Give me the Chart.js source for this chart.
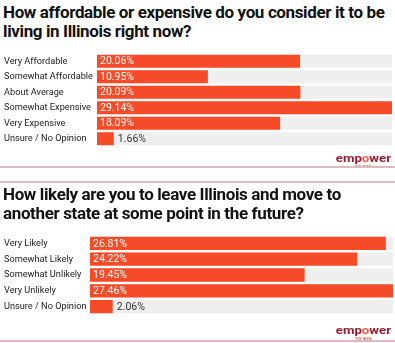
<!DOCTYPE html>
<html lang="en">
<head>
<meta charset="UTF-8">
<title>Illinois survey</title>
<script src="https://cdn.jsdelivr.net/npm/chart.js@4.4.1/dist/chart.umd.min.js"></script>
<style>
  body { margin:0; width:395px; height:343px; background:#fff; position:relative; overflow:hidden; font-family:Roboto, sans-serif; }
  .title { position:absolute; left:3px; font-weight:700; font-size:17px; line-height:19px; color:#111; white-space:nowrap; letter-spacing:-0.37px; }
  .box { position:absolute; left:0; }
  .rule { position:absolute; left:0; width:395px; height:2px; background:#d9bcc0; }
  .logo { position:absolute; right:4px; font-weight:700; font-size:11.5px; line-height:12px; color:#9a1a2d; transform:scaleX(1.15); transform-origin:right top; white-space:nowrap; }
  .logo span { color:#ef5a3c; }
  .logo small { position:absolute; left:17px; top:9px; font-size:3.5px; color:#ef5a3c; letter-spacing:0.4px; }
</style>
</head>
<body>

<div class="title" style="top:3px">How affordable or expensive do you consider it to be<br>living in Illinois right now?</div>
<div class="box" style="top:48px"><canvas id="chart1" width="395" height="104"></canvas></div>
<div class="logo" style="top:152px">emp<span>o</span>wer<small>TO WIN</small></div>
<div class="rule" style="top:166px"></div>
<div class="rule" style="top:181px"></div>

<div class="title" style="top:185px">How likely are you to leave Illinois and move to<br>another state at some point in the future?</div>
<div class="box" style="top:230px"><canvas id="chart2" width="395" height="90"></canvas></div>
<div class="logo" style="top:324px">emp<span>o</span>wer<small>TO WIN</small></div>
<div class="rule" style="top:340px"></div>

<script>
// question 1
const costLabels = ['Very Affordable', 'Somewhat Affordable', 'About Average', 'Somewhat Expensive', 'Very Expensive', 'Unsure / No Opinion'];
const costValues = [20.06, 10.95, 20.09, 29.14, 18.09, 1.66];

// question 2
const leaveLabels = ['Very Likely', 'Somewhat Likely', 'Somewhat Unlikely', 'Very Unlikely', 'Unsure / No Opinion'];
const leaveValues = [26.81, 24.22, 19.45, 27.46, 2.06];

const barColor = '#f64b28';
const trackColor = '#efefef';

// percent text inside the bar, or just after it when the bar is too short
const valueLabels = {
    id: 'valueLabels',
    afterDatasetsDraw(chart) {
        const ctx = chart.ctx;
        const meta = chart.getDatasetMeta(1);
        ctx.save();
        ctx.font = '10.5px Roboto';
        ctx.textBaseline = 'middle';
        meta.data.forEach((bar, i) => {
            const txt = chart.data.datasets[1].data[i].toFixed(2) + '%';
            const w = ctx.measureText(txt).width;
            if (bar.x - bar.base > w + 8) {
                ctx.fillStyle = '#fff';
                ctx.fillText(txt, bar.base + 3, bar.y + 0.5);
            } else {
                ctx.fillStyle = '#333';
                ctx.fillText(txt, bar.x + 4, bar.y + 0.5);
            }
        });
        ctx.restore();
    }
};

function makeChart(id, labels, values, axisWidth, padRight) {
    const max = Math.max(...values);
    new Chart(document.getElementById(id), {
        type: 'bar',
        data: {
            labels: labels,
            datasets: [{
                data: labels.map(() => max),   // grey track behind each bar
                backgroundColor: trackColor,
                grouped: false,
                order: 2
            }, {
                data: values,
                backgroundColor: barColor,
                grouped: false,
                order: 1
            }]
        },
        options: {
            indexAxis: 'y',
            responsive: false,
            animation: false,
            layout: { padding: { left: 4, right: padRight, top: 0, bottom: 0 } },
            datasets: { bar: { categoryPercentage: 1, barPercentage: 0.84 } },
            plugins: { legend: { display: false }, tooltip: { enabled: false } },
            scales: {
                x: { display: false, min: 0, max: max },
                y: {
                    grid: { display: false },
                    border: { display: false },
                    ticks: { crossAlign: 'far', padding: 0, color: '#222', font: { family: 'Roboto', size: 9.2 } },
                    afterFit(axis) { axis.width = axisWidth; }
                }
            }
        },
        plugins: [valueLabels]
    });
}

makeChart('chart1', costLabels, costValues, 93, 3);
makeChart('chart2', leaveLabels, leaveValues, 86, 2);
</script>
</body>
</html>
